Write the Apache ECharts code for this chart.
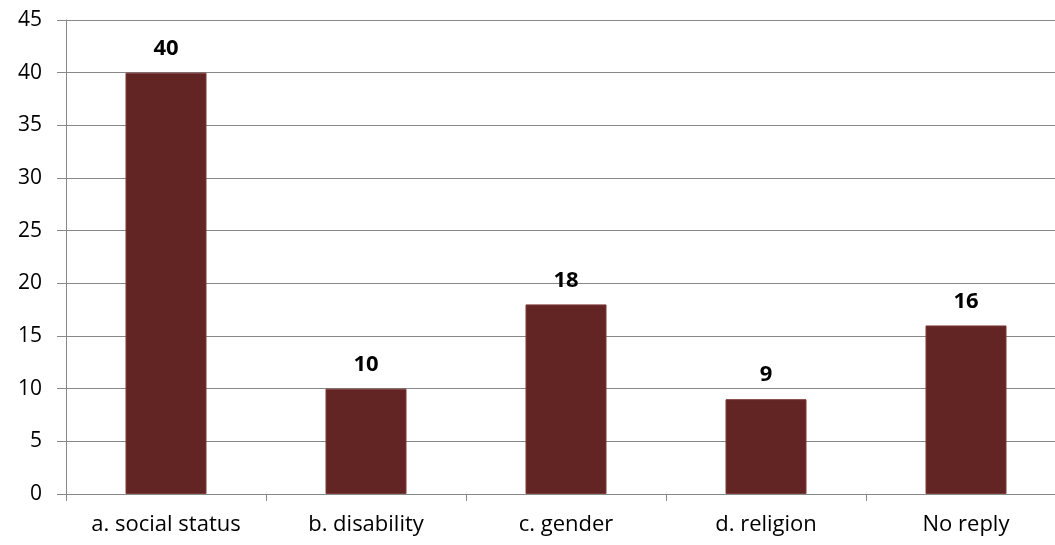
<!DOCTYPE html>
<html lang="en">
  <head>
    <meta charset="UTF-8" />
    <title>index.html</title>
    <style>
      html, body { margin: 0; padding: 0; background: #fff; overflow: hidden; }
      #chart { width: 1080px; height: 545px; }
    </style>
  </head>
  <body>
    <div id="chart"></div>
    <script src="https://cdn.jsdelivr.net/npm/echarts@6/dist/echarts.min.js"></script>
    <script>
      // categories and values
      const categories = ["a. social status", "b. disability", "c. gender", "d. religion", "No reply"];
      const values = [40, 10, 18, 9, 16];

      // the plot runs past the right edge of the window, so the chart div is wider than it
      const mchart = echarts.init(document.getElementById("chart"));
      const option = {
        animation: false,
        textStyle: { fontFamily: "Open Sans" },
        grid: { left: 66, top: 20, bottom: 51, width: 1000 },
        xAxis: {
          type: "category",
          data: categories,
          axisLine: { lineStyle: { color: "#888888" } },
          axisTick: { show: true, length: 7, lineStyle: { color: "#888888" } },
          axisLabel: { color: "#000", fontSize: 22, margin: 20, fontFamily: "Open Sans" },
        },
        yAxis: {
          type: "value",
          min: 0,
          max: 45,
          interval: 5,
          axisLine: { show: true, lineStyle: { color: "#888888" } },
          axisTick: { show: true, length: 9, lineStyle: { color: "#888888" } },
          splitLine: { lineStyle: { color: "#888888" } },
          axisLabel: { color: "#000", fontSize: 21, margin: 24, fontFamily: "Open Sans" },
        },
        series: [
          {
            type: "bar",
            data: values,
            barWidth: 81,
            itemStyle: { color: "#632523", borderColor: "#7a3b39", borderWidth: 1 },
            label: {
              show: true,
              position: "top",
              distance: 13,
              color: "#000",
              fontSize: 22,
              fontWeight: "bold",
              fontFamily: "Open Sans",
            },
          },
        ],
      };
      mchart.setOption(option);
    </script>
  </body>
</html>
